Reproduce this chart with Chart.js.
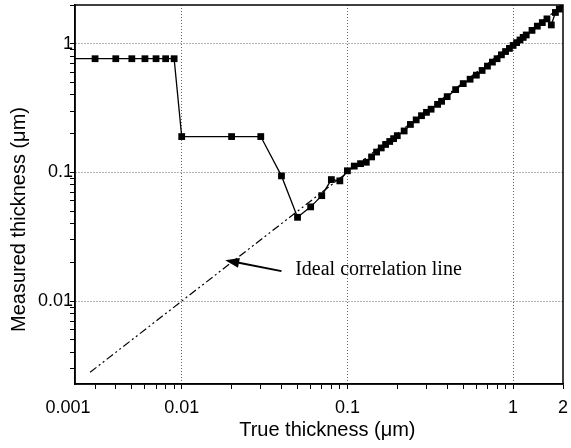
<!DOCTYPE html>
<html>
<head>
<meta charset="utf-8">
<script src="https://cdn.jsdelivr.net/npm/chart.js@4"></script>
<style>
  body { margin: 0; background: #fff; }
  canvas { display: block; }
</style>
</head>
<body>
<canvas id="chart" width="571" height="448"></canvas>
<script>
// true thickness (um) vs measured thickness (um)
const trueThk = [0.002, 0.003, 0.004, 0.005, 0.006, 0.007, 0.008, 0.009,
  0.01, 0.02, 0.03, 0.04, 0.05, 0.06, 0.07, 0.08, 0.09,
  0.1, 0.11, 0.12, 0.13, 0.14, 0.15, 0.16, 0.17, 0.18, 0.19, 0.2, 0.22, 0.24, 0.26, 0.28, 0.3,
  0.32, 0.35, 0.37, 0.4, 0.45, 0.5, 0.55, 0.6, 0.65, 0.7, 0.75, 0.8, 0.85, 0.9, 0.95,
  1.0, 1.05, 1.1, 1.15, 1.2, 1.3, 1.4, 1.5, 1.6, 1.7, 1.8, 1.9, 2.0];
const measThk = [0.765, 0.765, 0.765, 0.765, 0.765, 0.765, 0.765, 0.765,
  0.19, 0.19, 0.19, 0.094, 0.0448, 0.054, 0.066, 0.088, 0.086,
  0.103, 0.112, 0.117, 0.12, 0.132, 0.144, 0.155, 0.165, 0.174, 0.183, 0.193, 0.21, 0.236, 0.256, 0.276, 0.293,
  0.31, 0.338, 0.357, 0.388, 0.44, 0.49, 0.53, 0.57, 0.62, 0.67, 0.72, 0.765, 0.82, 0.87, 0.92,
  0.97, 1.02, 1.07, 1.12, 1.17, 1.27, 1.37, 1.46, 1.56, 1.40, 1.75, 1.86, 2.0];

// ideal correlation line y = x
const idealX = [0.0028, 2];
const idealY = [0.0028, 2];

const axisMin = 0.00227, axisMax = 2;
// the "0.001" label sits just left of the axis corner in the original
const xTicks = [0.00206, 0.003, 0.004, 0.005, 0.006, 0.007, 0.008, 0.009,
  0.01, 0.02, 0.03, 0.04, 0.05, 0.06, 0.07, 0.08, 0.09,
  0.1, 0.2, 0.3, 0.4, 0.5, 0.6, 0.7, 0.8, 0.9, 1, 2];
const xTickLabels = new Map([[0.00206, '0.001'], [0.01, '0.01'], [0.1, '0.1'], [1, '1'], [2, '2']]);
const yTicks = [0.003, 0.004, 0.005, 0.006, 0.007, 0.008, 0.009,
  0.01, 0.02, 0.03, 0.04, 0.05, 0.06, 0.07, 0.08, 0.09,
  0.1, 0.2, 0.3, 0.4, 0.5, 0.6, 0.7, 0.8, 0.9, 1, 2];
const yTickLabels = new Map([[0.01, '0.01'], [0.1, '0.1'], [1, '1']]);
const gridAt = [0.01, 0.1, 1];

const sans = '"Liberation Sans", Arial, sans-serif';

const framePlugin = {
  id: 'frame',
  afterDraw(chart) {
    const { ctx, chartArea: a } = chart;
    ctx.save();
    ctx.strokeStyle = '#000';
    ctx.lineWidth = 1.5;
    ctx.strokeRect(a.left, a.top, a.right - a.left, a.bottom - a.top);
    ctx.restore();
  }
};

const notePlugin = {
  id: 'note',
  afterDatasetsDraw(chart) {
    const { ctx, scales: { x, y } } = chart;
    const tx = x.getPixelForValue(0.04), ty = y.getPixelForValue(0.0171);
    const hx = x.getPixelForValue(0.0183), hy = y.getPixelForValue(0.0208);
    const ang = Math.atan2(hy - ty, hx - tx);
    ctx.save();
    ctx.strokeStyle = '#000';
    ctx.fillStyle = '#000';
    ctx.lineWidth = 2;
    ctx.beginPath();
    ctx.moveTo(tx, ty);
    ctx.lineTo(hx - 10 * Math.cos(ang), hy - 10 * Math.sin(ang));
    ctx.stroke();
    ctx.beginPath();
    ctx.moveTo(hx, hy);
    ctx.lineTo(hx - 14 * Math.cos(ang) + 5 * Math.sin(ang), hy - 14 * Math.sin(ang) - 5 * Math.cos(ang));
    ctx.lineTo(hx - 14 * Math.cos(ang) - 5 * Math.sin(ang), hy - 14 * Math.sin(ang) + 5 * Math.cos(ang));
    ctx.closePath();
    ctx.fill();
    ctx.font = '20px "Liberation Serif", "Times New Roman", serif';
    ctx.textBaseline = 'middle';
    ctx.fillText('Ideal correlation line', x.getPixelForValue(0.0484), y.getPixelForValue(0.0175));
    ctx.restore();
  }
};

function gridColor(ctx) {
  return gridAt.includes(ctx.tick && ctx.tick.value) ? '#666' : 'rgba(0,0,0,0)';
}
function xTickColor(ctx) {
  return ctx.tick && ctx.tick.value < axisMin ? 'rgba(0,0,0,0)' : '#000';
}

new Chart(document.getElementById('chart'), {
  type: 'scatter',
  data: {
    datasets: [
      {
        data: trueThk.map((v, i) => ({ x: v, y: measThk[i] })),
        showLine: true,
        borderColor: '#000',
        backgroundColor: '#000',
        borderWidth: 1.3,
        pointStyle: 'rect',
        pointRadius: 4.8,
        pointBorderWidth: 0
      },
      {
        data: idealX.map((v, i) => ({ x: v, y: idealY[i] })),
        showLine: true,
        borderColor: '#000',
        borderWidth: 1.2,
        borderDash: [8, 3, 2, 3, 2, 3],
        pointRadius: 0
      }
    ]
  },
  options: {
    responsive: false,
    animation: false,
    layout: { padding: { left: 0, right: 8, top: 5, bottom: 0 } },
    plugins: { legend: { display: false }, tooltip: { enabled: false } },
    scales: {
      x: {
        type: 'logarithmic',
        min: axisMin,
        max: axisMax,
        afterBuildTicks: s => { s.ticks = xTicks.map(v => ({ value: v })); },
        afterFit: s => { s.height = 64; s.paddingLeft = 0; s.paddingRight = 0; },
        ticks: {
          autoSkip: false,
          maxRotation: 0,
          color: '#000',
          padding: 8,
          font: { family: sans, size: 18 },
          callback: v => xTickLabels.get(v) || ''
        },
        grid: { color: gridColor, tickColor: xTickColor, tickLength: 5, lineWidth: 1 },
        border: { color: '#000', width: 1.5, dash: [1, 2] },
        title: {
          display: true,
          text: '   True thickness (\u03bcm)',
          color: '#000',
          font: { family: sans, size: 20 },
          padding: { top: 0, bottom: 6 }
        }
      },
      y: {
        type: 'logarithmic',
        min: axisMin,
        max: axisMax,
        afterBuildTicks: s => { s.ticks = yTicks.map(v => ({ value: v })); },
        afterFit: s => { s.width = 75; s.paddingTop = 0; s.paddingBottom = 0; },
        ticks: {
          autoSkip: false,
          color: '#000',
          padding: -3,
          font: { family: sans, size: 18 },
          callback: v => yTickLabels.get(v) || ''
        },
        grid: { color: gridColor, tickColor: '#000', tickLength: 5, lineWidth: 1 },
        border: { color: '#000', width: 1.5, dash: [1, 2] },
        title: {
          display: true,
          text: 'Measured thickness (\u03bcm)         ',
          color: '#000',
          font: { family: sans, size: 20 },
          padding: { top: 7, bottom: 0 }
        }
      }
    }
  },
  plugins: [framePlugin, notePlugin]
});
</script>
</body>
</html>
